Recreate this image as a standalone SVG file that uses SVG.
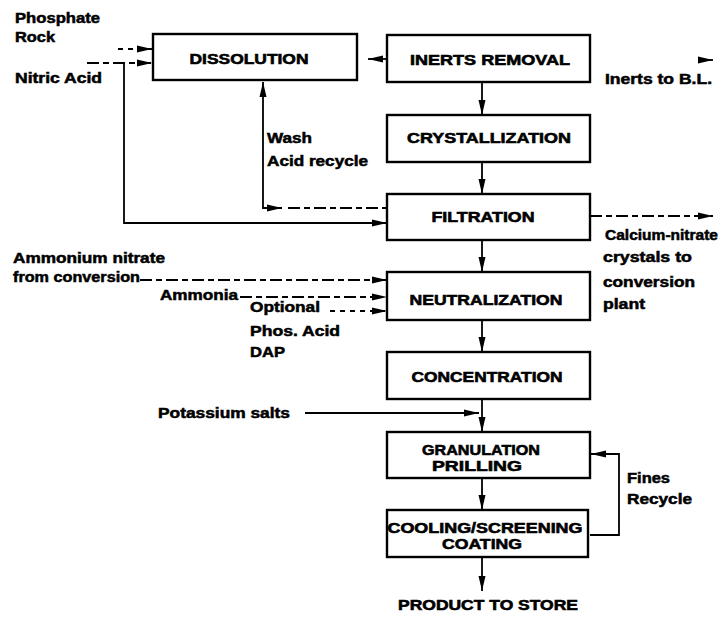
<svg xmlns="http://www.w3.org/2000/svg" width="727" height="617" viewBox="0 0 727 617">
<style>
.box{fill:#fff;stroke:#000;stroke-width:2.4}
.bl{font-family:"Liberation Sans",Arial,sans-serif;font-weight:bold;font-size:15px;text-anchor:middle;fill:#000;stroke:#000;stroke-width:0.6}
.lb{font-family:"Liberation Sans",Arial,sans-serif;font-weight:bold;font-size:14px;fill:#000;stroke:#000;stroke-width:0.5}
.ln{fill:none;stroke:#000;stroke-width:1.8}
.d1{stroke-dasharray:12 4 6 4}
.d2{stroke-dasharray:5 5}
</style>
<defs>
<marker id="ah" markerUnits="userSpaceOnUse" markerWidth="16" markerHeight="10" refX="15" refY="5" orient="auto-start-reverse">
<path d="M0,1.5 L15,5 L0,8.5 z" fill="#000"/>
</marker>
</defs>
<rect width="727" height="617" fill="#fff"/>

<g id="connectors">
<path class="ln d2" d="M118,49 H152" marker-end="url(#ah)"/>
<path class="ln d1" d="M87,63 H152" marker-end="url(#ah)"/>
<path class="ln" d="M124,63 V223 H387" marker-end="url(#ah)"/>
<path class="ln" d="M387,59 H368" marker-end="url(#ah)"/>
<path class="ln" d="M699,60 H713" marker-end="url(#ah)"/>
<path class="ln" d="M482,82 V115" marker-end="url(#ah)"/>
<path class="ln" d="M482,162 V194" marker-end="url(#ah)"/>
<path class="ln" d="M482,240 V272" marker-end="url(#ah)"/>
<path class="ln" d="M482,320 V352" marker-end="url(#ah)"/>
<path class="ln" d="M482,399 V432" marker-end="url(#ah)"/>
<path class="ln" d="M482,478 V510" marker-end="url(#ah)"/>
<path class="ln" d="M482,557 V591" marker-end="url(#ah)"/>
<path class="ln" d="M263,82 V208 H282" marker-start="url(#ah)" marker-end="url(#ah)"/>
<path class="ln d1" d="M288,208 H387"/>
<path class="ln d1" d="M590,216 H713" marker-end="url(#ah)"/>
<path class="ln d1" d="M140,280 H387" marker-end="url(#ah)"/>
<path class="ln d1" d="M240,297 H387" marker-end="url(#ah)"/>
<path class="ln d2" d="M330,311 H387" marker-end="url(#ah)"/>
<path class="ln" d="M305,413 H479" marker-end="url(#ah)"/>
<path class="ln" d="M590,535 H619 V454 H591" marker-end="url(#ah)"/>
</g>

<g id="dissolution"><rect class="box" x="153" y="34" width="204" height="46"/><text class="bl" x="249" y="64" textLength="119" lengthAdjust="spacingAndGlyphs">DISSOLUTION</text></g>
<g id="inerts-removal"><rect class="box" x="387" y="35" width="203" height="47"/><text class="bl" x="490" y="65" textLength="160" lengthAdjust="spacingAndGlyphs">INERTS REMOVAL</text></g>
<g id="crystallization"><rect class="box" x="387" y="115" width="203" height="47"/><text class="bl" x="489" y="143" textLength="164" lengthAdjust="spacingAndGlyphs">CRYSTALLIZATION</text></g>
<g id="filtration"><rect class="box" x="387" y="194" width="203" height="46"/><text class="bl" x="483" y="222" textLength="103" lengthAdjust="spacingAndGlyphs">FILTRATION</text></g>
<g id="neutralization"><rect class="box" x="387" y="272" width="203" height="48"/><text class="bl" x="486" y="305" textLength="153" lengthAdjust="spacingAndGlyphs">NEUTRALIZATION</text></g>
<g id="concentration"><rect class="box" x="387" y="352" width="203" height="47"/><text class="bl" x="487" y="382" textLength="151" lengthAdjust="spacingAndGlyphs">CONCENTRATION</text></g>
<g id="granulation"><rect class="box" x="387" y="432" width="203" height="46"/><text class="bl" x="481" y="455" textLength="118" lengthAdjust="spacingAndGlyphs">GRANULATION</text><text class="bl" x="477" y="471" textLength="90" lengthAdjust="spacingAndGlyphs">PRILLING</text></g>
<g id="cooling"><rect class="box" x="387" y="510" width="201" height="47"/><text class="bl" x="485" y="533" textLength="195" lengthAdjust="spacingAndGlyphs">COOLING/SCREENING</text><text class="bl" x="482" y="549" textLength="80" lengthAdjust="spacingAndGlyphs">COATING</text></g>
<g id="product"><text class="bl" x="488" y="610" textLength="180" lengthAdjust="spacingAndGlyphs">PRODUCT TO STORE</text></g>

<g id="labels">
<text class="lb" x="15" y="23" textLength="85" lengthAdjust="spacingAndGlyphs">Phosphate</text>
<text class="lb" x="15" y="42" textLength="40" lengthAdjust="spacingAndGlyphs">Rock</text>
<text class="lb" x="15" y="83" textLength="87" lengthAdjust="spacingAndGlyphs">Nitric Acid</text>
<text class="lb" x="267" y="143" textLength="45" lengthAdjust="spacingAndGlyphs">Wash</text>
<text class="lb" x="267" y="166" textLength="101" lengthAdjust="spacingAndGlyphs">Acid recycle</text>
<text class="lb" x="605" y="84" textLength="107" lengthAdjust="spacingAndGlyphs">Inerts to B.L.</text>
<text class="lb" x="605" y="240" textLength="113" lengthAdjust="spacingAndGlyphs">Calcium-nitrate</text>
<text class="lb" x="603" y="262" textLength="89" lengthAdjust="spacingAndGlyphs">crystals to</text>
<text class="lb" x="603" y="287" textLength="92" lengthAdjust="spacingAndGlyphs">conversion</text>
<text class="lb" x="603" y="309" textLength="42" lengthAdjust="spacingAndGlyphs">plant</text>
<text class="lb" x="13" y="263" textLength="152" lengthAdjust="spacingAndGlyphs">Ammonium nitrate</text>
<text class="lb" x="13" y="282" textLength="127" lengthAdjust="spacingAndGlyphs">from conversion</text>
<text class="lb" x="160" y="300" textLength="78" lengthAdjust="spacingAndGlyphs">Ammonia</text>
<text class="lb" x="250" y="312" textLength="70" lengthAdjust="spacingAndGlyphs">Optional</text>
<text class="lb" x="250" y="336" textLength="90" lengthAdjust="spacingAndGlyphs">Phos. Acid</text>
<text class="lb" x="250" y="357" textLength="35" lengthAdjust="spacingAndGlyphs">DAP</text>
<text class="lb" x="158" y="418" textLength="132" lengthAdjust="spacingAndGlyphs">Potassium salts</text>
<text class="lb" x="627" y="483" textLength="43" lengthAdjust="spacingAndGlyphs">Fines</text>
<text class="lb" x="627" y="504" textLength="65" lengthAdjust="spacingAndGlyphs">Recycle</text>
</g>
</svg>
